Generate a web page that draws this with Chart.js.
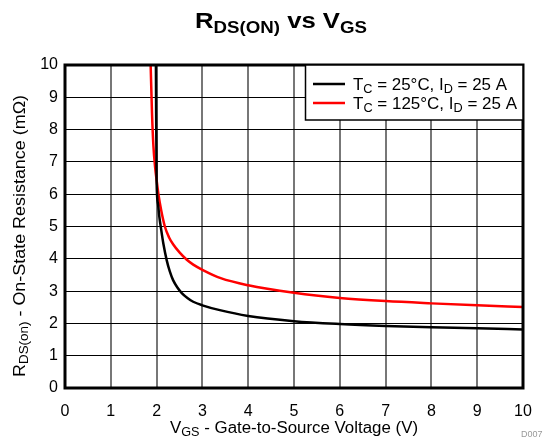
<!DOCTYPE html>
<html><head><meta charset="utf-8">
<script src="https://cdn.jsdelivr.net/npm/chart.js@4"></script>
<style>html,body{margin:0;padding:0;background:#fff}#wrap{width:551px;height:438px;position:relative}</style>
</head><body><div id="wrap"><canvas id="c" width="551" height="438"></canvas></div>
<script>
const xTicks = [0,1,2,3,4,5,6,7,8,9,10];
const yTicks = [0,1,2,3,4,5,6,7,8,9,10];
const vgs25 = [1.985,1.99,1.995,2.0,2.03,2.06,2.09,2.15,2.22,2.29,2.36,2.45,2.55,2.68,2.8,3.0,3.38,4.0,5.0,6.0,7.0,8.0,9.0,10.0];
const rds25 = [10,8.5,7.5,6.4,5.7,5.3,5.0,4.45,3.96,3.6,3.34,3.12,2.94,2.78,2.67,2.56,2.41,2.23,2.07,1.98,1.92,1.88,1.85,1.81];
const vgs125 = [1.87,1.9,1.93,1.97,2.0,2.04,2.1,2.18,2.27,2.36,2.5,2.66,2.8,3.0,3.4,4.0,5.0,6.0,7.0,8.0,9.0,10.0];
const rds125 = [10,8.5,7.5,6.8,6.44,6.0,5.5,5.0,4.67,4.45,4.2,3.97,3.82,3.66,3.4,3.18,2.95,2.79,2.69,2.62,2.56,2.51];
const legendSeg = [
  [["T",0],["C",1],[" = 25\u00B0C, I",0],["D",1],[" = 25 A",0]],
  [["T",0],["C",1],[" = 125\u00B0C, I",0],["D",1],[" = 25 A",0]]
];
const colors = ["#000000","#ff0000"];
const FONT = '"Liberation Sans", Arial, sans-serif';

function richWidth(ctx, segs, size, subSize, bold){
  let w=0;
  for(const [t,s] of segs){ctx.font=(bold?'bold ':'')+(s?subSize:size)+'px '+FONT; w+=ctx.measureText(t).width;}
  return w;
}
function drawRich(ctx, segs, x, y, size, subSize, subDrop, bold, tw){
  const nw=richWidth(ctx,segs,size,subSize,bold);
  const sx=tw?tw/nw:1;
  ctx.save(); ctx.translate(x,y); ctx.scale(sx,1);
  ctx.textBaseline='alphabetic'; ctx.textAlign='left';
  let cx=0;
  for(const [t,s] of segs){
    ctx.font=(bold?'bold ':'')+(s?subSize:size)+'px '+FONT;
    ctx.fillText(t, cx, s?subDrop:0);
    cx+=ctx.measureText(t).width;
  }
  ctx.restore();
}
const deco = {
  id:'deco',
  afterDraw(chart){
    const ctx=chart.ctx, a=chart.chartArea;
    ctx.save();
    ctx.strokeStyle='#000'; ctx.lineWidth=3;
    ctx.strokeRect(a.left, a.top, a.right-a.left, a.bottom-a.top);
    ctx.fillStyle='#000';
    drawRich(ctx,[["R",0],["DS(ON)",1],[" vs V",0],["GS",1]],195,28,22,16,5,true,172);
    drawRich(ctx,[["V",0],["GS",1],[" - Gate-to-Source Voltage (V)",0]],170,433,16,12,3,false,248);
    ctx.save(); ctx.translate(25,377); ctx.rotate(-Math.PI/2);
    drawRich(ctx,[["R",0],["DS(on)",1],[" - On-State Resistance (m\u03A9)",0]],0,0,16,12,3,false,282);
    ctx.restore();
    ctx.fillStyle='#fff'; ctx.fillRect(305,65,218,55);
    ctx.strokeStyle='#000'; ctx.lineWidth=1.5; ctx.strokeRect(305.5,65,217.5,55);
    const rowW=[154,164];
    for(let i=0;i<2;i++){
      const yy=84+i*19;
      ctx.strokeStyle=colors[i]; ctx.lineWidth=2.5;
      ctx.beginPath(); ctx.moveTo(313,yy); ctx.lineTo(345,yy); ctx.stroke();
      ctx.fillStyle='#000';
      drawRich(ctx,legendSeg[i],353,yy+5.5,16,12,3,false,rowW[i]);
    }
    ctx.fillStyle='#999'; ctx.font='9px '+FONT; ctx.textAlign='left'; ctx.textBaseline='alphabetic';
    ctx.fillText('D007',521,437);
    ctx.restore();
  }
};
new Chart(document.getElementById('c'),{
  type:'line',
  data:{datasets:[
    {label:'25', data:vgs25.map((v,i)=>({x:v,y:rds25[i]})), borderColor:colors[0], borderWidth:2.5, pointRadius:0, cubicInterpolationMode:'monotone'},
    {label:'125', data:vgs125.map((v,i)=>({x:v,y:rds125[i]})), borderColor:colors[1], borderWidth:2.5, pointRadius:0, cubicInterpolationMode:'monotone'}
  ]},
  options:{
    responsive:false, animation:false,
    layout:{padding:{left:0,right:28,top:65,bottom:0}},
    plugins:{legend:{display:false},title:{display:false},tooltip:{enabled:false}},
    scales:{
      x:{type:'linear',min:0,max:10,
        afterBuildTicks(s){s.ticks=xTicks.map(v=>({value:v}));},
        afterFit(s){s.height=50;},
        ticks:{color:'#000',font:{size:16,family:FONT},padding:14,maxRotation:0},
        grid:{color:'#777',lineWidth:2,drawTicks:false},
        border:{display:false}},
      y:{type:'linear',min:0,max:10,
        afterBuildTicks(s){s.ticks=yTicks.map(v=>({value:v}));},
        afterFit(s){s.width=65;},
        ticks:{color:'#000',font:{size:16,family:FONT},padding:7},
        grid:{color:'#000',lineWidth:1,drawTicks:false},
        border:{display:false}}
    }
  },
  plugins:[deco]
});
</script></body></html>
